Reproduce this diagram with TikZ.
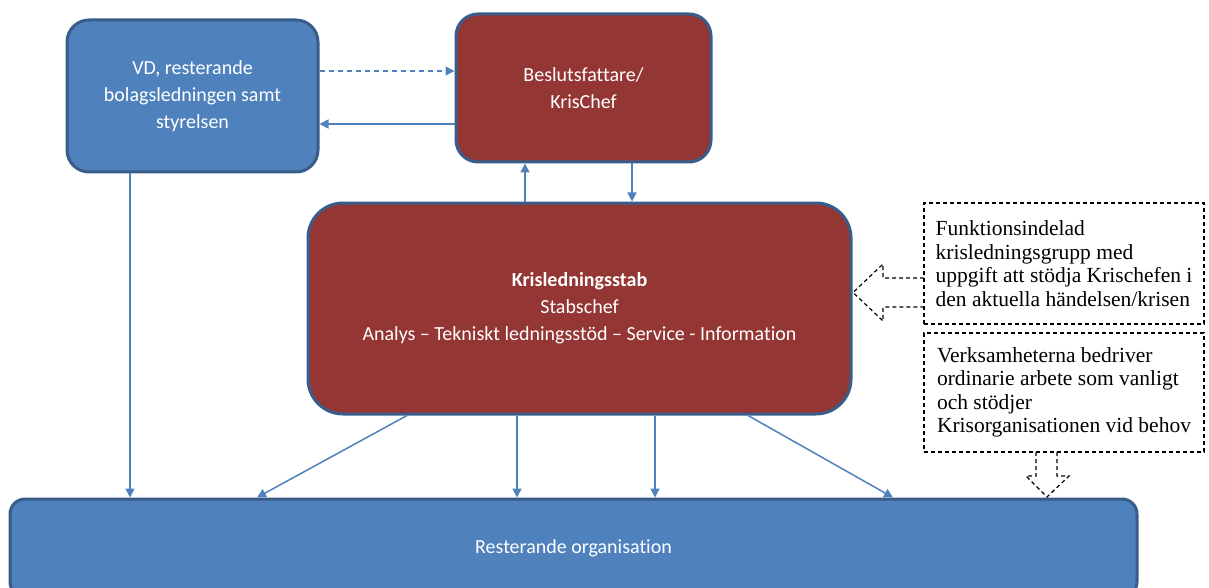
\documentclass[tikz,border=0pt]{standalone}
\usepackage{fontspec}
\setmainfont{Carlito}[Ligatures=NoCommon]
\newfontfamily\notefont{Liberation Serif}
\usetikzlibrary{arrows.meta}
\definecolor{boxblue}{HTML}{4F81BD}
\definecolor{boxred}{HTML}{943634}
\definecolor{boxedge}{HTML}{385D8A}
\begin{document}
\begin{tikzpicture}[x=1pt,y=-1pt]
        \tikzstyle{bluebox}=[rectangle,rounded corners=22pt,line width=3pt,draw=boxedge,fill=boxblue,text=white,align=center,font=\fontsize{20}{27}\selectfont]
        \tikzstyle{redbox}=[bluebox,fill=boxred]
        \tikzstyle{notebox}=[rectangle,draw=black,line width=1.2pt,dash pattern=on 4pt off 3pt,align=left,inner xsep=9pt,font=\notefont\fontsize{21.5}{23.5}\selectfont]
        \tikzstyle{link}=[draw=boxblue,line width=1.5pt,-{Triangle[length=9pt,width=9pt]}]
        \tikzstyle{hollow}=[draw=black,line width=1.2pt,dash pattern=on 4pt off 3pt]
        \useasboundingbox (0,0) rectangle (1209,588);
        \clip (0,0) rectangle (1209,588);
        \begin{scope}
           \node [bluebox,minimum width=251pt,minimum height=152pt] (vd) at (192.5,96) {VD, resterande\\bolagsledningen samt\\styrelsen};
           \node [redbox,minimum width=255pt,minimum height=148pt] (beslut) at (583.5,88) {Beslutsfattare/\\KrisChef};
           \node [redbox,rounded corners=35pt,minimum width=543pt,minimum height=211pt] (stab) at (579.5,308.5) {\textbf{Krisledningsstab}\\Stabschef\\Analys – Tekniskt ledningsstöd – Service - Information};
           \node [bluebox,rounded corners=15pt,minimum width=1127pt,minimum height=98pt] (org) at (573.5,548) {Resterande organisation};
           \node [notebox,minimum width=280pt,minimum height=121pt] (funk) at (1064,263.5) {Funktionsindelad\\krisledningsgrupp med\\uppgift att stödja Krischefen i\\den aktuella händelsen/krisen};
           \node [notebox,minimum width=280pt,minimum height=119pt] (verk) at (1064,392.5) {Verksamheterna bedriver\\ordinarie arbete som vanligt\\och stödjer\\Krisorganisationen vid behov};
        \end{scope}
        % links between boxes
        \path[link,dash pattern=on 5pt off 4pt] ([yshift=25pt]vd.east) -- ([yshift=25pt]vd.east -| beslut.west);
        \path[link] ([yshift=-28pt]vd.east -| beslut.west) -- ([yshift=-28pt]vd.east);
        \path[link] ([xshift=-58.5pt]beslut.south |- stab.north) -- ([xshift=-58.5pt]beslut.south);
        \path[link] ([xshift=48.5pt]beslut.south) -- ([xshift=48.5pt]beslut.south |- stab.north);
        \path[link] ([xshift=-62.5pt]vd.south) -- ([xshift=-62.5pt]vd.south |- org.north);
        \path[link] ([xshift=-172.5pt]stab.south) -- ([xshift=-316.5pt]org.north);
        \path[link] ([xshift=-62.5pt]stab.south) -- ([xshift=-62.5pt]stab.south |- org.north);
        \path[link] ([xshift=75.5pt]stab.south) -- ([xshift=75.5pt]stab.south |- org.north);
        \path[link] ([xshift=168.5pt]stab.south) -- ([xshift=319.5pt]org.north);
        % hollow block arrows
        \path[hollow] (924,278) -- (883,278) -- (883,264) -- (853,292.5) -- (883,321) -- (883,307) -- (924,307);
        \path[hollow] (1036,452) -- (1036,476) -- (1026,476) -- (1047,497) -- (1069,476) -- (1057,476) -- (1057,452);
      \end{tikzpicture}
\end{document}
